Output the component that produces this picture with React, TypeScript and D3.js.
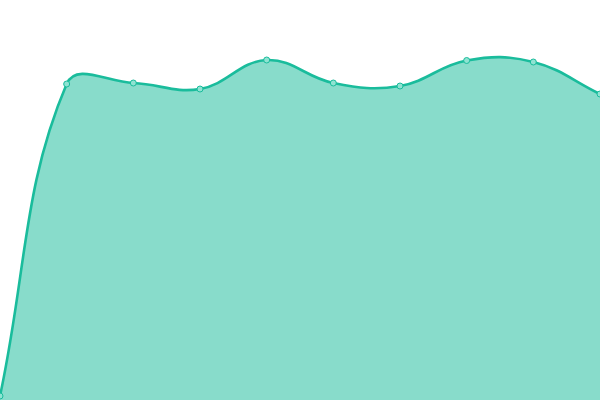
import * as React from 'react';
import * as d3 from 'd3';

const labels = ['0', '1', '2', '3', '4', '5', '6', '7', '8', '9'];
const values = [4, 316, 317, 311, 340, 317, 314, 339.5, 338, 306];

const W = 600;
const H = 400;
const LINE = '#1abc9c';
const FILL = 'rgba(26,188,156,0.52)';

// chart.js style spline (tension 0.4), clamped to the chart area
const splinePath = (pts: [number, number][], close: boolean) => {
	const t = 0.4;
	const cps = pts.map((cur, i) => {
		const prev = pts[i - 1] || cur;
		const next = pts[i + 1] || cur;
		const d01 = Math.hypot(cur[0] - prev[0], cur[1] - prev[1]);
		const d12 = Math.hypot(next[0] - cur[0], next[1] - cur[1]);
		let s01 = d01 / (d01 + d12);
		let s12 = d12 / (d01 + d12);
		s01 = isNaN(s01) ? 0 : s01;
		s12 = isNaN(s12) ? 0 : s12;
		const fa = t * s01;
		const fb = t * s12;
		const clampX = (v) => Math.max(0, Math.min(W, v));
		const clampY = (v) => Math.max(0, Math.min(H, v));
		return {
			prev: [clampX(cur[0] - fa * (next[0] - prev[0])), clampY(cur[1] - fa * (next[1] - prev[1]))],
			next: [clampX(cur[0] + fb * (next[0] - prev[0])), clampY(cur[1] + fb * (next[1] - prev[1]))],
		};
	});
	const p = d3.path();
	p.moveTo(pts[0][0], pts[0][1]);
	for (let i = 1; i < pts.length; i++) {
		const a = cps[i - 1].next;
		const b = cps[i].prev;
		p.bezierCurveTo(a[0], a[1], b[0], b[1], pts[i][0], pts[i][1]);
	}
	if (close) {
		p.lineTo(pts[pts.length - 1][0], H);
		p.lineTo(pts[0][0], H);
		p.closePath();
	}
	return p.toString();
};

const App = () => {
	const x = d3.scalePoint().domain(labels).range([0, W]);
	const y = d3.scaleLinear().domain([0, 400]).range([H, 0]);
	const pts: [number, number][] = values.map((v, i) => [x(labels[i]) as number, y(v)]);

	return (
		<svg
			width={W}
			height={H}
			style={{position: 'absolute', left: 0, top: 0, display: 'block'}}
		>
			<path d={splinePath(pts, true)} fill={FILL} stroke="none"/>
			<path d={splinePath(pts, false)} fill="none" stroke={LINE} strokeWidth={2.6}/>
			{pts.map((p, i) => (
				<circle
					key={i}
					cx={p[0]}
					cy={p[1]}
					r={3}
					fill="#8fe3d2"
					stroke={LINE}
					strokeWidth={1}
				/>
			))}
		</svg>
	);
};

export default App;
